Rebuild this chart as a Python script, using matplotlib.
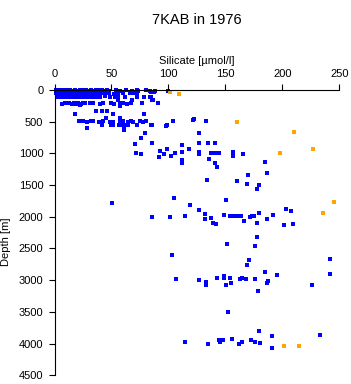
import matplotlib
matplotlib.use("Agg")
import matplotlib.pyplot as plt

plt.rcParams['font.family'] = ['Liberation Sans', 'DejaVu Sans']

# surface layer, 0-250 m
surface_si = [1, 2.5, 4, 5.5, 7, 8.5, 10, 12, 14, 16, 18, 20, 22, 24, 26, 28, 30, 32, 34, 36,
              38, 40, 42, 44, 46, 48, 54, 57.5, 63, 68, 72, 73, 80, 84, 88, 84.4, 87.6, 99.9,
              1, 3, 5, 7, 9, 11, 13, 15, 17, 19, 21, 23, 25, 27, 29, 31, 33, 35, 37, 39,
              41, 43, 45, 48, 52, 56, 60, 66, 69, 72.7,
              2, 4, 6, 8, 10, 13, 16, 19, 22, 25, 28, 31, 34, 37, 40, 44, 49, 53, 56, 62,
              72, 78.6, 83.8, 84.4,
              56, 67.8, 85.9, 86.2,
              6.3, 9.2, 13, 15, 17, 19, 21, 23, 25, 27, 31, 34, 40, 43, 50, 52, 57.5, 60.4, 64, 67,
              76.6, 91,
              22, 57.5]
surface_depth = [5, 8, 3, 10, 5, 12, 4, 8, 6, 10, 3, 9, 5, 7, 11, 4, 8, 6, 10, 5,
                 9, 3, 7, 12, 5, 8, 6, 10, 4, 8, 5, 12, 6, 9, 14, 27, 29, 20,
                 48, 55, 45, 52, 58, 47, 50, 56, 44, 53, 49, 57, 46, 51, 54, 48, 59, 45, 52, 50,
                 55, 47, 53, 49, 56, 51, 46, 52, 48, 55,
                 105, 112, 108, 115, 103, 110, 118, 106, 113, 109, 116, 104, 111, 107, 114, 102, 110, 106, 112, 108,
                 105, 110, 108, 115,
                 158, 162, 160, 163,
                 215, 212, 205, 220, 208, 214, 202, 218, 210, 206, 212, 208, 216, 204, 210, 218, 212, 205, 214, 208,
                 210, 210,
                 240, 245]

# intermediate, 250-800 m
mid_si = [36, 41.4, 45.8, 18, 51.6, 78.8, 45.2, 57.5,
          21.8, 24.7, 28.3, 32, 34, 39.3, 43, 48.7, 51.6, 57.5, 60.4, 64.8, 66.9, 69.2, 75, 77.4, 80.3,
          104.3, 121.3, 122.7, 133,
          41.4, 49.3, 51.1, 56.6, 60.4, 61.9, 64.8, 72.2, 85.3, 98.5, 85, 98.2,
          28.8, 61, 61, 79.7, 127.1, 76.2]
mid_depth = [330, 325, 335, 380, 385, 378, 440, 445,
             495, 490, 500, 488, 495, 502, 492, 498, 505, 490, 496, 500, 494, 502, 490, 498, 495,
             493, 473, 462, 493,
             550, 545, 555, 548, 552, 545, 558, 550, 548, 555, 556, 572,
             600, 598, 625, 680, 677, 760]

# deep water, below 800 m
deep_si = [70.9, 71.8, 75.9, 85.9, 99.0, 112.2, 127.1, 135.0, 141.2, 92.9, 95.9, 92.0, 102.0, 106.1,
           112.2, 118.1, 127.1, 127.1, 137.1, 140.0, 142.4, 144.7, 157.0, 157.0, 165.8, 112.2, 112.2,
           135.9, 141.2, 142.9, 185.1, 186.8, 170.2, 179.8, 178.1, 160.5, 168.7, 134.2,
           50.7, 105.2, 119.0, 127.1, 150.8, 85.9, 101.7, 114.8, 131.9, 131.9, 137.7, 139.4, 142.1,
           149.1, 154.1, 156.5, 160.0, 162.0, 164.0, 166.6, 171.9, 173.4, 175.2, 178.1, 179.8, 186.8,
           192.1, 201.8, 203.5, 207.9, 209.7, 178.1, 151.7, 176.0, 103.2,
           171.0, 169.0, 241.9, 241.9, 106.9, 127.1, 133.3, 132.8, 142.9, 149.1, 149.1, 150.8, 154.1,
           155.2, 163.1, 164.4, 167.9, 176.0, 178.9, 185.1, 187.7, 186.8, 195.6, 226.1,
           152.6, 179.8, 191.0, 233.1, 114.8, 135.0, 144.7, 145.3, 148.0, 156.1, 162.2, 164.9, 172.8,
           176.0, 180.7, 191.0]
deep_depth = [850, 997, 1013, 830, 934, 871, 830, 839, 830, 961, 1013, 1050, 1040, 997,
              981, 929, 981, 1013, 997, 997, 997, 997, 977, 1035, 1008, 1103, 1154,
              1091, 1145, 1217, 1139, 1312, 1343, 1501, 1564, 1438, 1485, 1422,
              1785, 1696, 1816, 1895, 1737, 2005, 2000, 1985, 1958, 2036, 2021, 2095, 2106,
              1973, 1985, 1985, 1985, 1985, 1985, 2074, 2011, 1989, 1989, 2099, 1942, 2036,
              1969, 2137, 1874, 1906, 2111, 2320, 2430, 2462, 2595,
              2682, 2767, 2666, 2903, 2981, 2997, 3024, 3076, 2966, 2934, 2966, 3076, 2966,
              3051, 2981, 2966, 2981, 2981, 3170, 2871, 3013, 3044, 2918, 3076,
              3508, 3800, 3879, 3863, 3969, 4005, 3942, 3969, 3949, 3922, 4011, 3974, 3949,
              3974, 3989, 4068]

# flagged samples (orange)
flag_si = [101.4, 109.6, 160.0, 210.5, 198.0, 226.7, 245.7, 236.0, 201.8, 214.9]
flag_depth = [36, 63, 509, 662, 997, 934, 1769, 1942, 4043, 4043]

xticks = [0, 50, 100, 150, 200, 250]
yticks = [0, 500, 1000, 1500, 2000, 2500, 3000, 3500, 4000, 4500]

fig = plt.figure(figsize=(3.51, 3.84), dpi=100)
ax = fig.add_axes([0.1553, 0.0227, 0.8114, 0.7429])

blue = "#0000ff"
ax.scatter(surface_si, surface_depth, s=6, marker="s", color=blue, linewidths=0, clip_on=False)
ax.scatter(mid_si, mid_depth, s=6, marker="s", color=blue, linewidths=0, clip_on=False)
ax.scatter(deep_si, deep_depth, s=6, marker="s", color=blue, linewidths=0, clip_on=False)
ax.scatter(flag_si, flag_depth, s=6, marker="s", color="#ffa500", linewidths=0, clip_on=False)

ax.set_xlim(0, 250)
ax.set_ylim(4500, 0)
ax.xaxis.tick_top()
ax.xaxis.set_label_position("top")
ax.set_xticks(xticks)
ax.set_yticks(yticks)
ax.tick_params(axis="both", direction="out", length=4, width=0.8, labelsize=8, pad=4)

for side in ["right", "bottom"]:
    ax.spines[side].set_visible(False)
for side in ["left", "top"]:
    ax.spines[side].set_linewidth(0.8)

fig.text(196.5 / 351, 1 - 61 / 384, "Silicate [\u00b5mol/l]", ha="center", va="center", fontsize=8)
fig.text(6 / 351, 1 - 242 / 384, "Depth [m]", ha="center", va="center", rotation=90, fontsize=8)
fig.text(196.5 / 351, 1 - 20 / 384, "7KAB in 1976", ha="center", va="center", fontsize=10.5)

fig.savefig("out.png", dpi=100)
